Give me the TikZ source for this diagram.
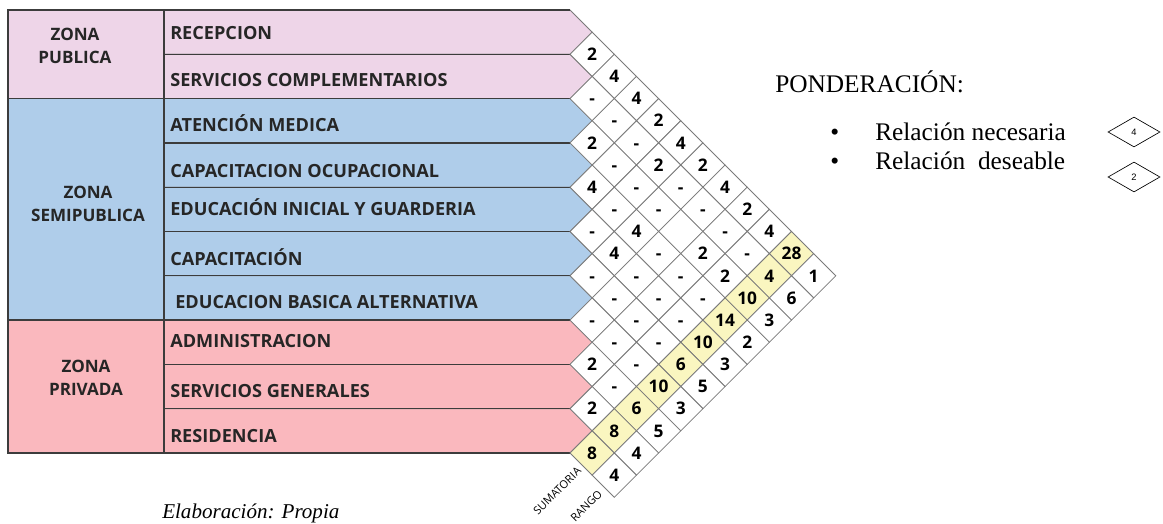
\documentclass[tikz,border=0pt]{standalone}
\usepackage{fontspec}
\setmainfont{Liberation Serif}
\newfontfamily\labfont{Open Sans}
\newfontfamily\legfont{Liberation Sans}
\usetikzlibrary{shapes.geometric}
\definecolor{Publica}{HTML}{EED5E8}
\definecolor{Semipub}{HTML}{AFCDEA}
\definecolor{Privada}{HTML}{FAB8BE}
\definecolor{Suma}{HTML}{FAF6C0}
\definecolor{Grid}{HTML}{7A7A7A}
\definecolor{Edge}{HTML}{3C3C3C}

\begin{document}
\begin{tikzpicture}[x=0.75pt,y=-0.75pt,
    cell/.style={shape=diamond,draw=Grid,line width=0.6pt,fill=white,minimum width=33.2pt,minimum height=33.2pt,
      inner sep=0pt,outer sep=0pt,text height=9.3pt,text depth=0pt,font=\labfont\bfseries\fontsize{13}{15}\selectfont},
    sumcell/.style={cell,fill=Suma},
    rowlab/.style={anchor=base west,inner sep=0pt,text=black!85,font=\labfont\bfseries\fontsize{13.6}{16}\selectfont},
    zonelab/.style={align=center,inner sep=0pt,text=black!85,font=\labfont\bfseries\fontsize{12.8}{17}\selectfont},
    colhead/.style={anchor=east,rotate=45,inner sep=0pt,font=\labfont\fontsize{8.3}{10}\selectfont},
    legtext/.style={anchor=base west,inner sep=0pt,font=\fontsize{19}{22}\selectfont},
    legcell/.style={shape=diamond,draw=black,line width=0.5pt,minimum width=39pt,minimum height=22.5pt,inner sep=0pt,
      font=\legfont\fontsize{7}{8}\selectfont}]
  \def\h{22.15}
  \useasboundingbox (0,0) rectangle (1163,524);
  % row boxes
  \foreach \k/\col in {0/Publica,1/Publica,2/Semipub,3/Semipub,4/Semipub,5/Semipub,6/Semipub,7/Privada,8/Privada,9/Privada}{
    \filldraw[fill=\col,draw=Grid,line width=0.6pt] (164,{10+2*\h*\k}) -- (570,{10+2*\h*\k}) -- ({570+\h},{10+\h*(2*\k+1)})
      -- (570,{10+2*\h*(\k+1)}) -- (164,{10+2*\h*(\k+1)}) -- cycle;
  }
  % zones
  \filldraw[fill=Publica,draw=Edge,line width=1pt] (8,10) rectangle (164,{10+4*\h});
  \filldraw[fill=Semipub,draw=Edge,line width=1pt] (8,{10+4*\h}) rectangle (164,{10+14*\h});
  \filldraw[fill=Privada,draw=Edge,line width=1pt] (8,{10+14*\h}) rectangle (164,{10+20*\h});
  \foreach \k in {0,...,10}
    \draw[Edge,line width=1pt] (164,{10+2*\h*\k}) -- (570,{10+2*\h*\k});
  \node[zonelab] (zpub) at (75,46) {ZONA\\PUBLICA};
  \node[zonelab] (zsemi) at (88,204) {ZONA\\SEMIPUBLICA};
  \node[zonelab] (zpriv) at (86,378) {ZONA\\PRIVADA};
  % spaces
  \foreach \k/\x/\yb/\txt in {0/170/40/RECEPCION,1/170/87/SERVICIOS COMPLEMENTARIOS,2/170/132/ATENCIÓN MEDICA,
      3/170/177/CAPACITACION OCUPACIONAL,4/170/215/EDUCACIÓN INICIAL Y GUARDERIA,5/170/265/CAPACITACIÓN,
      6/175/308/EDUCACION BASICA ALTERNATIVA,7/170/347/ADMINISTRACION,8/170/397/SERVICIOS GENERALES,9/170/442/RESIDENCIA}
    \node[rowlab] (r\k) at (\x,\yb) {\txt};
  % relations
  \foreach \i/\vals in {0/{2,4,4,2,4,2,4,2,4},1/{-,-,-,2,-,-,-,-},2/{2,-,-,-,{},2,2},3/{4,-,4,-,-,-},
      4/{-,4,-,-,-},5/{-,-,-,-},6/{-,-,-},7/{2,-},8/{2}}{
    \foreach \v [count=\c] in \vals{
      \pgfmathtruncatemacro\j{\i+\c}
      \node[cell] (c\i-\j) at ({570+\h*(\j-\i)},{10+\h*(\i+\j+1)}) {\v};
    }
  }
  % sumatoria y rango
  \foreach \s [count=\k from 0] in {28,4,10,14,10,6,10,6,8,8}
    \node[sumcell] (s\k) at ({570+\h*(10-\k)},{10+\h*(\k+11)}) {\s};
  \foreach \g [count=\k from 0] in {1,6,3,2,3,5,3,5,4,4}
    \node[cell] (g\k) at ({570+\h*(11-\k)},{10+\h*(\k+12)}) {\g};
  \node[colhead] (lsum) at ([shift={(-2,5)}]s9.south west) {SUMATORIA};
  \node[colhead] (lrango) at ([shift={(-3,6)}]g9.south west) {RANGO};
  % legend
  \node[legtext] (pond) at (775,93) {PONDERACIÓN:};
  \node[legtext] (b1) at (830,141) {•};
  \node[legtext] (nec) at (875,141) {Relación necesaria};
  \node[legtext] (b2) at (830,170) {•};
  \node[legtext] (des) at (875,170) {Relación\ \ deseable};
  \node[legcell] (k4) at (1134,132) {4};
  \node[legcell] (k2) at (1134,177) {2};
  \node[anchor=base west,inner sep=0pt,font=\itshape\fontsize{15.8}{18}\selectfont] (elab) at (162,518) {Elaboración: Propia};
\end{tikzpicture}
\end{document}
